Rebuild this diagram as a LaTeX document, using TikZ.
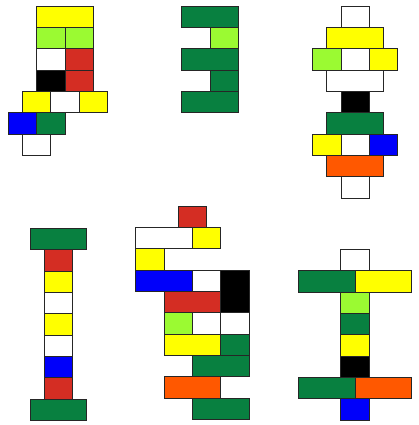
\documentclass[tikz,border=0pt]{standalone}
\usepackage{xcolor}
\usepackage{tikz}

\definecolor{bgreen}{RGB}{8,128,64}
\definecolor{blime}{RGB}{155,250,50}
\definecolor{bred}{RGB}{212,45,35}
\definecolor{borange}{RGB}{255,88,0}
\definecolor{byellow}{RGB}{255,255,0}
\definecolor{bblue}{RGB}{0,0,250}

\tikzset{brick/.style={draw=black!85,line width=0.8pt}}

\begin{document}
\begin{tikzpicture}[x=14.17pt,y=-21.33pt]
    \useasboundingbox (0pt,0pt) rectangle (418pt,-425pt);
    % top left
    \begin{scope}[shift={(8.3pt,-6pt)}]
      \foreach \c/\a/\b/\r in {byellow/2/6/0, blime/2/4/1, blime/4/6/1, white/2/4/2, bred/4/6/2,
          black/2/4/3, bred/4/6/3, byellow/1/3/4, white/3/5/4, byellow/5/7/4,
          bblue/0/2/5, bgreen/2/4/5, white/1/3/6}
        \filldraw[brick,fill=\c] (\a,\r) rectangle (\b,\r+1);
    \end{scope}
    % top middle
    \begin{scope}[shift={(181.7pt,-6pt)}]
      \foreach \c/\a/\b/\r in {bgreen/0/4/0, blime/2/4/1, bgreen/0/4/2, bgreen/2/4/3, bgreen/0/4/4}
        \filldraw[brick,fill=\c] (\a,\r) rectangle (\b,\r+1);
    \end{scope}
    % top right
    \begin{scope}[shift={(312.7pt,-6pt)}]
      \foreach \c/\a/\b/\r in {white/2/4/0, byellow/1/5/1, blime/0/2/2, white/2/4/2, byellow/4/6/2,
          white/1/5/3, black/2/4/4, bgreen/1/5/5, byellow/0/2/6, white/2/4/6, bblue/4/6/6,
          borange/1/5/7, white/2/4/8}
        \filldraw[brick,fill=\c] (\a,\r) rectangle (\b,\r+1);
    \end{scope}
    % bottom left
    \begin{scope}[shift={(30pt,-228.3pt)}]
      \foreach \c/\a/\b/\r in {bgreen/0/4/0, bred/1/3/1, byellow/1/3/2, white/1/3/3, byellow/1/3/4,
          white/1/3/5, bblue/1/3/6, bred/1/3/7, bgreen/0/4/8}
        \filldraw[brick,fill=\c] (\a,\r) rectangle (\b,\r+1);
    \end{scope}
    % bottom middle
    \begin{scope}[shift={(135.7pt,-206pt)}]
      \foreach \c/\a/\b/\r in {bred/3/5/0, white/0/4/1, byellow/4/6/1, byellow/0/2/2,
          bblue/0/4/3, white/4/6/3, bred/2/6/4, blime/2/4/5, white/4/6/5, white/6/8/5,
          byellow/2/6/6, bgreen/6/8/6, bgreen/4/8/7, borange/2/6/8, bgreen/4/8/9}
        \filldraw[brick,fill=\c] (\a,\r) rectangle (\b,\r+1);
      \filldraw[brick,fill=black] (6,3) rectangle (8,5);
    \end{scope}
    % bottom right
    \begin{scope}[shift={(298.3pt,-249.3pt)}]
      \foreach \c/\a/\b/\r in {white/3/5/0, bgreen/0/4/1, byellow/4/8/1, blime/3/5/2, bgreen/3/5/3,
          byellow/3/5/4, black/3/5/5, bgreen/0/4/6, borange/4/8/6, bblue/3/5/7}
        \filldraw[brick,fill=\c] (\a,\r) rectangle (\b,\r+1);
    \end{scope}
\end{tikzpicture}
\end{document}
